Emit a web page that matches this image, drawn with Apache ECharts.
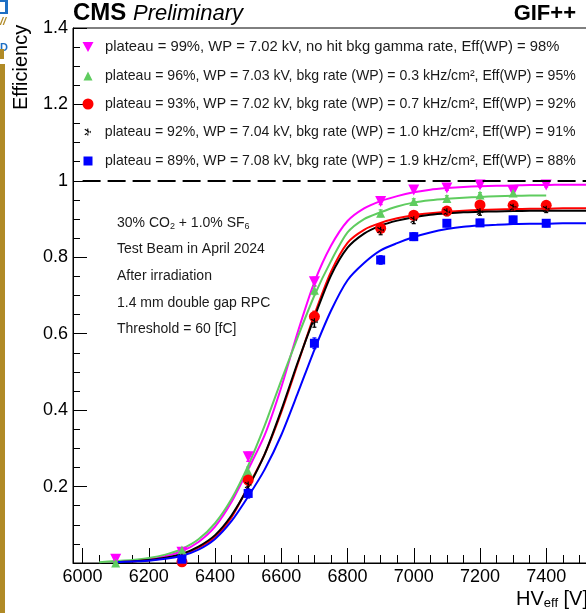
<!DOCTYPE html>
<html>
<head>
<meta charset="utf-8">
<script src="https://cdn.jsdelivr.net/npm/echarts@6/dist/echarts.min.js"></script>
<style>
  html, body { margin: 0; padding: 0; background: #ffffff; }
  #chart { width: 586px; height: 613px; }
</style>
</head>
<body>
<div id="chart"></div>
<script>
// ---- axis ticks and labels ----
const xMajorTicks = [6000, 6200, 6400, 6600, 6800, 7000, 7200, 7400, 7600];
const xMinorTicks = [6000, 6050, 6100, 6150, 6200, 6250, 6300, 6350, 6400, 6450, 6500, 6550,
  6600, 6650, 6700, 6750, 6800, 6850, 6900, 6950, 7000, 7050, 7100, 7150, 7200, 7250,
  7300, 7350, 7400, 7450, 7500, 7550, 7600, 7650];

// ---- legend entries ----
const seriesLabels = [
  'plateau = 99%, WP = 7.02 kV, no hit bkg gamma rate, Eff(WP) = 98%',
  'plateau = 96%, WP = 7.03 kV, bkg rate (WP) = 0.3 kHz/cm\u00B2, Eff(WP) = 95%',
  'plateau = 93%, WP = 7.02 kV, bkg rate (WP) = 0.7 kHz/cm\u00B2, Eff(WP) = 92%',
  'plateau = 92%, WP = 7.04 kV, bkg rate (WP) = 1.0 kHz/cm\u00B2, Eff(WP) = 91%',
  'plateau = 89%, WP = 7.08 kV, bkg rate (WP) = 1.9 kHz/cm\u00B2, Eff(WP) = 88%'
];

// ---- measured efficiency points (HV_eff in V) ----
const hvPoints = [6100, 6300, 6500, 6700, 6900, 7000, 7100, 7200, 7300, 7400];
const effNoBkg  = [0.010, 0.028, 0.278, 0.736, 0.946, 0.976, 0.981, 0.989, 0.972, 0.989];
const effBkg03  = [0.000, 0.034, 0.239, 0.714, 0.915, 0.946, 0.954, 0.963, 0.968, null];
const effBkg07  = [null, 0.003, 0.217, 0.645, 0.876, 0.910, 0.921, 0.937, 0.936, 0.936];
const effBkg10  = [null, 0.015, 0.204, 0.631, 0.871, 0.898, 0.919, 0.919, 0.931, 0.926];
const effBkg19  = [null, 0.010, 0.182, 0.575, 0.793, 0.854, 0.889, 0.890, 0.898, 0.889];
const errNoBkg  = [0.004, 0.006, 0.012, 0.012, 0.008, 0.006, 0.006, 0.005, 0.006, 0.005];
const errBkg03  = [0.004, 0.006, 0.012, 0.012, 0.009, 0.007, 0.007, 0.006, 0.006, null];
const errBkg07  = [null, 0.006, 0.013, 0.014, 0.010, 0.009, 0.008, 0.008, 0.008, 0.008];
const errBkg10  = [null, 0.006, 0.013, 0.014, 0.012, 0.010, 0.010, 0.009, 0.009, 0.009];
const errBkg19  = [null, 0.006, 0.012, 0.014, 0.011, 0.010, 0.009, 0.009, 0.009, 0.009];

// ---- sigmoid fit curves, sampled along HV_eff ----
const curveHV = [6050, 6100, 6150, 6200, 6250, 6300, 6350, 6400, 6450, 6500, 6550, 6600,
  6650, 6700, 6750, 6800, 6850, 6900, 6950, 7000, 7050, 7100, 7150, 7200, 7250, 7300,
  7350, 7400, 7450, 7500, 7550, 7600, 7650];
const fitNoBkg = [null, 0.003, 0.006, 0.010, 0.018, 0.031, 0.055, 0.095, 0.160, 0.245, 0.335, 0.460,
  0.605, 0.735, 0.830, 0.895, 0.928, 0.947, 0.960, 0.970, 0.977, 0.981, 0.984, 0.986, 0.987, 0.988,
  0.989, 0.989, 0.990, 0.990, 0.990, 0.990, 0.990];
const fitBkg03 = [0.002, 0.005, 0.008, 0.013, 0.022, 0.037, 0.062, 0.104, 0.168, 0.255, 0.360, 0.478,
  0.592, 0.700, 0.790, 0.865, 0.900, 0.918, 0.933, 0.943, 0.949, 0.953, 0.956, 0.958, 0.960, 0.961,
  0.962, 0.962, null, null, null, null, null];
const fitBkg07 = [null, 0.002, 0.004, 0.007, 0.013, 0.022, 0.040, 0.068, 0.120, 0.200, 0.285, 0.395,
  0.522, 0.650, 0.762, 0.838, 0.872, 0.890, 0.902, 0.910, 0.915, 0.919, 0.922, 0.924, 0.925, 0.926,
  0.927, 0.927, 0.928, 0.928, 0.928, 0.928, 0.928];
const fitBkg10 = [null, 0.002, 0.004, 0.008, 0.014, 0.024, 0.043, 0.073, 0.125, 0.198, 0.285, 0.400,
  0.526, 0.643, 0.752, 0.825, 0.862, 0.883, 0.896, 0.905, 0.911, 0.915, 0.918, 0.919, 0.920, 0.921,
  0.922, 0.922, 0.922, 0.922, 0.922, 0.922, 0.922];
const fitBkg19 = [null, 0.002, 0.004, 0.006, 0.011, 0.019, 0.035, 0.063, 0.110, 0.174, 0.245, 0.335,
  0.445, 0.558, 0.660, 0.740, 0.785, 0.818, 0.837, 0.853, 0.865, 0.874, 0.880, 0.883, 0.885, 0.887,
  0.888, 0.888, 0.889, 0.889, 0.889, 0.889, 0.889];

const FONT = '"Liberation Sans", Arial, Helvetica, sans-serif';
const asterisk = 'path://M4.2,0h1.6v10h-1.6z M0.3,1.9l0.8,-1.4 8.6,5 -0.8,1.4z M0.3,8.1l0.8,1.4 8.6,-5 -0.8,-1.4z';
const downTriangle = 'path://M0,0L10,0L5,9Z';

const groups = [
  { eff: effNoBkg, err: errNoBkg, fit: fitNoBkg, color: '#ff00ff', symbol: downTriangle, size: 11, font: 14.8 },
  { eff: effBkg03, err: errBkg03, fit: fitBkg03, color: '#5fcc5f', symbol: 'triangle', size: 9, font: 14.1 },
  { eff: effBkg07, err: errBkg07, fit: fitBkg07, color: '#ff0000', symbol: 'circle', size: 11, font: 14.1 },
  { eff: effBkg10, err: errBkg10, fit: fitBkg10, color: '#000000', symbol: asterisk, size: 7, font: 14.1 },
  { eff: effBkg19, err: errBkg19, fit: fitBkg19, color: '#0000ff', symbol: 'rect', size: 9, font: 14.1 }
];

function pairs(xs, ys) {
  const out = [];
  xs.forEach((x, i) => { if (ys[i] !== null && ys[i] !== undefined) out.push([x, ys[i]]); });
  return out;
}

const series = [];
// fit curves
groups.forEach((g, i) => {
  const s = {
    type: 'line', name: 'fit' + i, data: pairs(curveHV, g.fit),
    showSymbol: false, smooth: 0.25, silent: true,
    lineStyle: { color: g.color, width: 2 }, itemStyle: { color: g.color }, z: 2
  };
  if (i === 0) {
    s.markLine = {
      silent: true, symbol: 'none', label: { show: false },
      lineStyle: { color: '#000', width: 2, type: [18, 7] },
      data: [[{ coord: [6000, 1] }, { coord: [7650, 1] }]]
    };
  }
  series.push(s);
});
// error bars
groups.forEach((g, i) => {
  const data = [];
  hvPoints.forEach((x, k) => { if (g.eff[k] !== null) data.push([x, g.eff[k], g.err[k]]); });
  series.push({
    type: 'custom', name: 'err' + i, silent: true, z: 3, data: data,
    renderItem: function (params, api) {
      const x = api.value(0), y = api.value(1), e = api.value(2);
      const p1 = api.coord([x, y - e]), p2 = api.coord([x, y + e]);
      return {
        type: 'group', children: [
          { type: 'line', shape: { x1: p1[0], y1: p1[1], x2: p2[0], y2: p2[1] }, style: { stroke: g.color, lineWidth: 1.5 } },
          { type: 'line', shape: { x1: p1[0] - 2, y1: p1[1], x2: p1[0] + 2, y2: p1[1] }, style: { stroke: g.color, lineWidth: 1.2 } },
          { type: 'line', shape: { x1: p2[0] - 2, y1: p2[1], x2: p2[0] + 2, y2: p2[1] }, style: { stroke: g.color, lineWidth: 1.2 } }
        ]
      };
    }
  });
});
// measured points
groups.forEach((g, i) => {
  series.push({
    type: 'scatter', name: seriesLabels[i], data: pairs(hvPoints, g.eff),
    symbol: g.symbol, symbolSize: g.size,
    itemStyle: { color: g.color, opacity: 1 }, z: 4, silent: true
  });
});

// one legend row per data set
const legendRowY = [47, 76, 104, 132, 161];
const legends = groups.map((g, i) => ({
  data: [{ name: seriesLabels[i] }],
  orient: 'vertical', left: 88 - g.size / 2, top: legendRowY[i] - 9,
  padding: 0, itemWidth: g.size, itemHeight: g.size, selectedMode: false,
  textStyle: { fontFamily: FONT, fontSize: g.font, color: '#1a1a1a', lineHeight: 18,
    padding: [0, 0, 0, 105 - (88 + g.size / 2 + 5)] }
}));

const infoLines = [
  '30% CO{sub|2} + 1.0% SF{sub|6}',
  'Test Beam in April 2024',
  'After irradiation',
  '1.4 mm double gap RPC',
  'Threshold = 60 [fC]'
];
const infoY = [223, 249, 276, 303, 329];

const graphics = [
  // page edge decorations
  { type: 'rect', shape: { x: 0, y: 64, width: 5, height: 549 }, style: { fill: '#b08a26' } },
  { type: 'rect', shape: { x: 0, y: 0, width: 8, height: 14 }, style: { fill: '#1e6fc4' } },
  { type: 'rect', shape: { x: 0, y: 2, width: 5, height: 10 }, style: { fill: '#ffffff' } },
  { type: 'text', x: 0, y: 16, style: { text: '//', font: 'italic bold 11px ' + FONT, fill: '#b08a26' } },
  { type: 'text', x: 0, y: 42, style: { text: 'D', font: 'bold 11px ' + FONT, fill: '#1e6fc4' } },
  { type: 'rect', shape: { x: 0, y: 49, width: 4, height: 10 }, style: { fill: '#b08a26' } },
  // header
  { type: 'text', x: 73, y: 25, style: { text: 'CMS', font: 'bold 24px ' + FONT, fill: '#000', textVerticalAlign: 'bottom' } },
  { type: 'text', x: 133, y: 25, style: { text: 'Preliminary', font: 'italic 22px ' + FONT, fill: '#000', textVerticalAlign: 'bottom' } },
  { type: 'text', x: 576, y: 25, style: { text: 'GIF++', font: 'bold 22px ' + FONT, fill: '#000', textAlign: 'right', textVerticalAlign: 'bottom' } },
  // axis titles
  { type: 'text', x: 21, y: 110, rotation: Math.PI / 2, style: { text: 'Efficiency', font: '20px ' + FONT, fill: '#000', textAlign: 'left', textVerticalAlign: 'middle' } },
  { type: 'text', x: 516, y: 599, style: {
      text: 'HV{sub|eff} [V]', font: '20px ' + FONT, fill: '#000', textVerticalAlign: 'middle',
      rich: { sub: { fontSize: 13, fontFamily: FONT, verticalAlign: 'bottom', padding: [9, 0, 0, 0] } } } }
];
infoLines.forEach((t, i) => {
  graphics.push({ type: 'text', x: 117, y: infoY[i], style: {
    text: t, font: '14px ' + FONT, fill: '#1a1a1a', textVerticalAlign: 'middle',
    rich: { sub: { fontSize: 9, fontFamily: FONT, padding: [8, 0, 0, 0] } } } });
});

const chart = echarts.init(document.getElementById('chart'), null, { renderer: 'canvas' });
chart.setOption({
  animation: false,
  backgroundColor: '#ffffff',
  grid: { left: 73, top: 28, width: 556, height: 535, outerBoundsMode: 'none', containLabel: false,
    show: true, borderColor: '#000', borderWidth: 1, backgroundColor: 'transparent' },
  legend: legends,
  xAxis: [
    {
      type: 'value', min: 5971, max: 7650, position: 'bottom',
      axisLine: { lineStyle: { color: '#000', width: 1 } },
      axisTick: { customValues: xMajorTicks, inside: true, length: 15, lineStyle: { color: '#000' } },
      axisLabel: { customValues: xMajorTicks, margin: 5, fontSize: 18, fontFamily: FONT, color: '#000',
        formatter: v => String(v) },
      splitLine: { show: false }
    },
    {
      type: 'value', min: 5971, max: 7650, position: 'bottom',
      axisLine: { show: false },
      axisTick: { customValues: xMinorTicks, inside: true, length: 8, lineStyle: { color: '#000' } },
      axisLabel: { show: false }, splitLine: { show: false }
    }
  ],
  yAxis: {
    type: 'value', min: 0, max: 1.4, interval: 0.2,
    axisLine: { show: true, lineStyle: { color: '#000', width: 1 } },
    axisTick: { inside: true, length: 14, lineStyle: { color: '#000' } },
    minorTick: { show: true, splitNumber: 4, length: 7, lineStyle: { color: '#000' } },
    axisLabel: { margin: 5, fontSize: 18, fontFamily: FONT, color: '#000',
      formatter: v => (v === 0 ? '' : String(Math.round(v * 10) / 10)) },
    splitLine: { show: false }, minorSplitLine: { show: false }
  },
  series: series,
  graphic: graphics
});
</script>
</body>
</html>
